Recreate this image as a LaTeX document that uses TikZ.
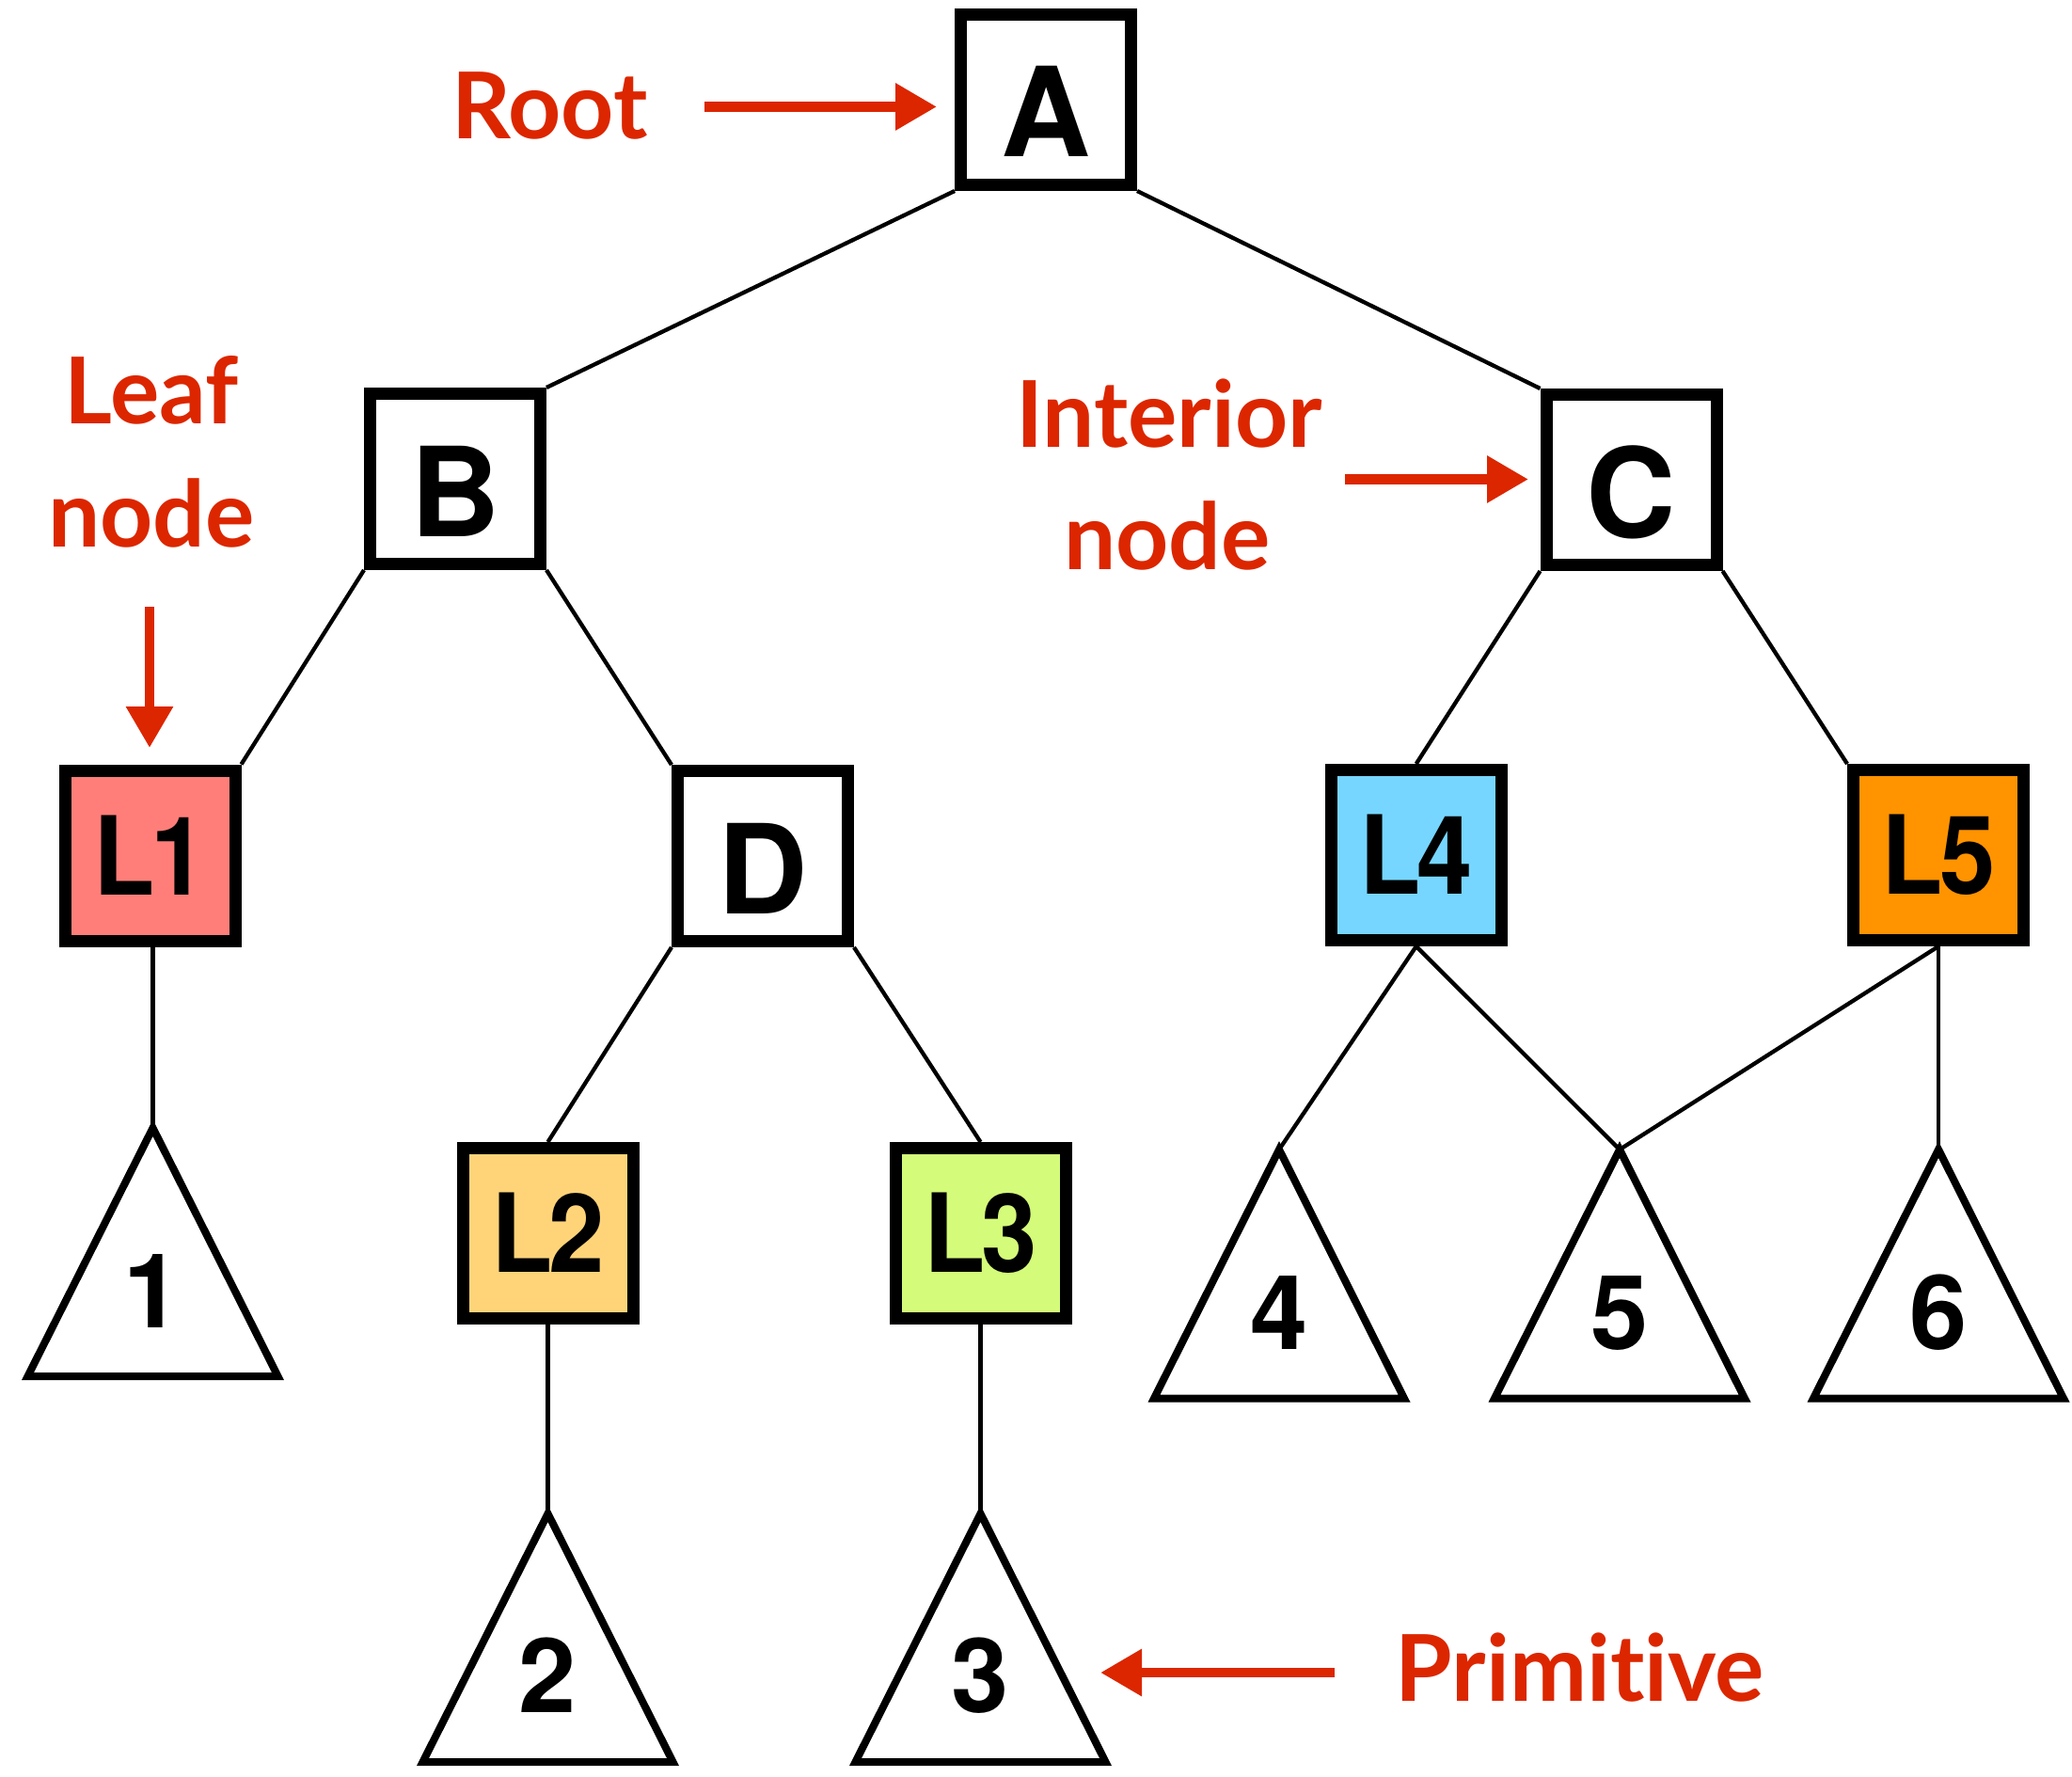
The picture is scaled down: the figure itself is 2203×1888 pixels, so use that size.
\documentclass[tikz,border=0pt]{standalone}
\usepackage{fontspec}
\setmainfont{TeX Gyre Heros}
\newfontfamily\narrowfont{TeX Gyre Heros}[FakeStretch=0.92]
\newfontfamily\notefont{Lato}[Ligatures=NoCommon]
\usetikzlibrary{arrows.meta}
\definecolor{annot}{RGB}{220,38,0}
\definecolor{cLone}{HTML}{FF7E79}
\definecolor{cLtwo}{HTML}{FFD479}
\definecolor{cLthree}{HTML}{D4FB79}
\definecolor{cLfour}{HTML}{76D6FF}
\definecolor{cLfive}{HTML}{FF9300}
\newcommand\leafname[1]{L\kern-2pt #1}
\begin{document}
\begin{tikzpicture}[x=0.5pt,y=-0.5pt,
  box/.style={draw=black, line width=6.5pt, minimum size=90.5pt, inner sep=0pt, fill=white},
  big/.style={font=\fontsize{66}{66}\selectfont\bfseries, text height=61pt, text depth=0pt},
  leaflab/.style={font=\narrowfont\fontsize{58}{58}\selectfont\bfseries, text height=41.6pt, text depth=0pt},
  edge/.style={line width=2.15pt},
  tri/.style={draw=black, line width=4pt, line join=miter, fill=white},
  num/.style={font=\fontsize{55}{55}\selectfont\bfseries, text height=39pt, text depth=0pt, inner sep=0pt},
  note/.style={text=annot, font=\fontsize{49}{49}\selectfont\notefont\bfseries, inner sep=0pt, anchor=base},
  callout/.style={draw=annot, line width=5.35pt, -{Triangle[length=22pt,width=23.75pt]}}
]
\useasboundingbox (0,0) rectangle (2203,1888);

% interior nodes
\node[box,big] (A) at (1112,106) {A};
\node[box,big] (B) at (484,509) {B};
\node[box,big] (C) at (1734.5,510) {C};
\node[box,big] (D) at (811,910) {D};
% leaf nodes
\node[box,leaflab,fill=cLone]   (L1) at (159.5,909.5) {\leafname{1}};
\node[box,leaflab,fill=cLtwo]   (L2) at (582.5,1311) {\leafname{2}};
\node[box,leaflab,fill=cLthree] (L3) at (1042.5,1311) {\leafname{3}};
\node[box,leaflab,fill=cLfour]  (L4) at (1505.7,909) {\leafname{4}};
\node[box,leaflab,fill=cLfive]  (L5) at (2061,909) {\leafname{5}};

% primitive apexes
\coordinate (t1) at (162.5,1199);
\coordinate (t2) at (582.5,1609);
\coordinate (t3) at (1042.5,1609);
\coordinate (t4) at (1360,1222);
\coordinate (t5) at (1722,1222);
\coordinate (t6) at (2061,1222);

% primitive triangles
\foreach \t in {t1,t2,t3}{
  \draw[tri] (\t) -- ++(-133,264) -- ++(266,0) -- cycle;
}
\foreach \t in {t4,t5,t6}{
  \draw[tri] (\t) -- ++(-133,264.5) -- ++(266,0) -- cycle;
}
\node[num] (n1) at ([yshift=-86.5pt]t1) {1};
\node[num] (n2) at ([yshift=-86pt]t2) {2};
\node[num] (n3) at ([yshift=-86pt]t3) {3};
\node[num] (n4) at ([yshift=-86.5pt]t4) {4};
\node[num] (n5) at ([yshift=-86.5pt]t5) {5};
\node[num] (n6) at ([yshift=-86.5pt]t6) {6};

% tree edges
\draw[edge] (A.south west) -- (B.north east);
\draw[edge] (A.south east) -- (C.north west);
\draw[edge] (B.south west) -- (L1.north east);
\draw[edge] (B.south east) -- (D.north west);
\draw[edge] (C.south west) -- (L4.north);
\draw[edge] (C.south east) -- (L5.north west);
\draw[edge] (D.south west) -- (L2.north);
\draw[edge] (D.south east) -- (L3.north);
\draw[edge] (L1.south -| t1) -- (t1);
\draw[edge] (L2.south) -- (t2);
\draw[edge] (L3.south) -- (t3);
\draw[edge] (L4.south) -- (t4);
\draw[edge] (L4.south) -- (t5);
\draw[edge] (L5.south) -- (t5);
\draw[edge] (L5.south) -- (t6);

% annotations
\node[note] (root) at (584.5,148) {Root};
\coordinate (rootS) at (749,113.5);
\coordinate (rootE) at (996,113.5);
\draw[callout] (rootS) -- (rootE);

\node[note] (leaf1) at (161,450) {Leaf};
\node[note] (leaf2) at (161,581) {node};
\coordinate (leafS) at (159,645);
\coordinate (leafE) at (159,795);
\draw[callout] (leafS) -- (leafE);

\node[note] (int1) at (1243,475) {Interior};
\node[note] (int2) at (1241,605) {node};
\coordinate (intS) at (1430,509.5);
\coordinate (intE) at (1625,509.5);
\draw[callout] (intS) -- (intE);

\node[note] (prim) at (1680,1808) {Primitive};
\coordinate (primS) at (1419,1778);
\coordinate (primE) at (1170,1778);
\draw[callout] (primS) -- (primE);
\end{tikzpicture}
\end{document}
